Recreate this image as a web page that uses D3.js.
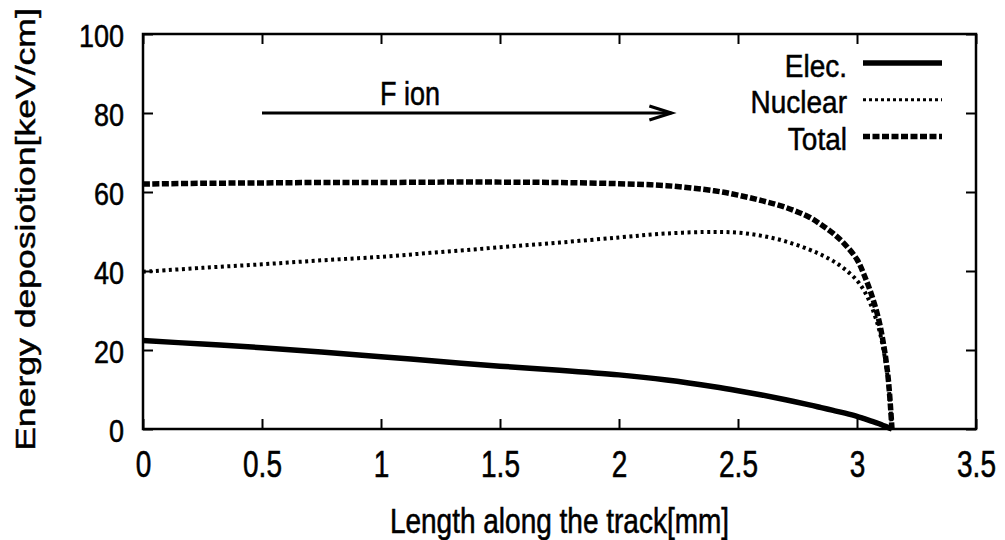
<!DOCTYPE html>
<html>
<head>
<meta charset="utf-8">
<script src="https://cdn.jsdelivr.net/npm/d3@7/dist/d3.min.js"></script>
<style>
  body { margin: 0; background: #fff; }
  svg text { font-family: "Liberation Sans", Arial, Helvetica, sans-serif; fill: #000; stroke: #000; stroke-width: 0.45px; }
</style>
</head>
<body>
<svg id="chart" width="1005" height="540"></svg>
<script>
// track position [mm]
var trackX = [0, 0.25, 0.5, 0.75, 1.0, 1.25, 1.5, 1.75, 2.0, 2.2, 2.4, 2.5, 2.6, 2.7, 2.8, 2.85, 2.9, 2.95, 3.0, 3.03, 3.06, 3.09, 3.11, 3.13, 3.147];
// energy deposition [keV/cm]
var elecValues    = [22.4, 21.5, 20.6, 19.5, 18.3, 17.1, 15.9, 14.9, 13.7, 12.4, 10.7, 9.7, 8.6, 7.4, 6.1, 5.4, 4.7, 4.0, 3.2, 2.6, 2.0, 1.4, 0.9, 0.4, 0];
var nuclearValues = [39.8, 40.8, 41.7, 42.7, 43.6, 44.8, 46.0, 47.2, 48.5, 49.5, 49.9, 49.7, 48.9, 47.5, 45.4, 44.1, 42.5, 40.4, 37.6, 35.0, 31.2, 25.8, 20.5, 12.5, 0];
var totalValues   = [62.0, 62.2, 62.3, 62.4, 62.4, 62.5, 62.5, 62.4, 62.1, 61.6, 60.3, 59.2, 57.8, 56.1, 53.6, 51.7, 49.5, 46.7, 42.9, 39.0, 34.2, 28.0, 22.0, 13.5, 0];

var seriesNames = ["Elec.", "Nuclear", "Total"];
var xTicks = [0, 0.5, 1, 1.5, 2, 2.5, 3, 3.5];
var xTickLabels = ["0", "0.5", "1", "1.5", "2", "2.5", "3", "3.5"];
var yTicks = [0, 20, 40, 60, 80, 100];
var yTickLabels = ["0", "20", "40", "60", "80", "100"];

var xTitle = "Length along the track[mm]";
var yTitle = "Energy deposiotion[keV/cm]";
var ionLabel = "F ion";

const svg = d3.select("#chart");
const margin = { top: 34, right: 29, bottom: 111, left: 143 };
const width = 1005 - margin.left - margin.right,
    height = 540 - margin.top - margin.bottom;

const x = d3.scaleLinear().domain([0, 3.5]).range([0, width]);
const y = d3.scaleLinear().domain([0, 100]).range([height, 0]);

const g = svg.append("g").attr("transform", `translate(${margin.left},${margin.top})`);

// axes, ticks inward on all four sides
const xAxis = g.append("g")
    .attr("transform", `translate(0,${height})`)
    .call(d3.axisBottom(x).tickValues(xTicks).tickSize(-10).tickSizeOuter(0)
        .tickFormat((d, i) => xTickLabels[i]));
g.append("g")
    .call(d3.axisTop(x).tickValues(xTicks).tickSize(-10).tickSizeOuter(0).tickFormat(""));
const yAxis = g.append("g")
    .call(d3.axisLeft(y).tickValues(yTicks).tickSize(-10).tickSizeOuter(0)
        .tickFormat((d, i) => yTickLabels[i]));
g.append("g")
    .attr("transform", `translate(${width},0)`)
    .call(d3.axisRight(y).tickValues(yTicks).tickSize(-10).tickSizeOuter(0).tickFormat(""));

g.selectAll(".tick line").attr("stroke", "#000").attr("stroke-width", 2);
g.selectAll(".domain").remove();

xAxis.selectAll("text")
    .attr("y", 0).attr("dy", null)
    .attr("font-size", 28)
    .attr("transform", "translate(0,48) scale(1,1.3)");
yAxis.selectAll("text")
    .attr("x", 0).attr("dy", null)
    .attr("font-size", 27)
    .attr("text-anchor", "end")
    .attr("transform", "translate(-19,12) scale(1,1.17)");

g.append("rect")
    .attr("width", width)
    .attr("height", height)
    .attr("fill", "none")
    .attr("stroke", "#000")
    .attr("stroke-width", 2.5);

// curves
const styles = [
    { width: 5.5, dash: null },
    { width: 4, dash: "3,3.5" },
    { width: 5.5, dash: "7,2.5" }
];
const allValues = [elecValues, nuclearValues, totalValues];

const line = d3.line()
    .x(d => x(d[0]))
    .y(d => y(d[1]))
    .curve(d3.curveCatmullRom.alpha(0.5));

allValues.forEach((vals, i) => {
    g.append("path")
        .datum(trackX.map((t, j) => [t, vals[j]]))
        .attr("fill", "none")
        .attr("stroke", "#000")
        .attr("stroke-width", styles[i].width)
        .attr("stroke-dasharray", styles[i].dash)
        .attr("d", line);
});

// arrow + label
const arrowY = y(80), arrowX0 = x(0.5), arrowX1 = x(2.22);
g.append("line")
    .attr("x1", arrowX0).attr("x2", arrowX1)
    .attr("y1", arrowY).attr("y2", arrowY)
    .attr("stroke", "#000").attr("stroke-width", 3);
g.append("path")
    .attr("d", `M${arrowX1 - 22},${arrowY - 7}L${arrowX1},${arrowY}L${arrowX1 - 22},${arrowY + 7}`)
    .attr("fill", "none").attr("stroke", "#000").attr("stroke-width", 3.2);
g.append("text")
    .attr("font-size", 27)
    .attr("transform", `translate(${x(1.0) - 1},${y(82) - 0.5}) scale(1,1.2)`)
    .text(ionLabel);

// legend
const legend = svg.append("g").attr("transform", "translate(847,63)");
seriesNames.forEach((name, i) => {
    const row = legend.append("g").attr("transform", `translate(0,${i * 36.7})`);
    row.append("text")
        .attr("font-size", 28)
        .attr("text-anchor", "end")
        .attr("transform", "translate(0,13.5) scale(1,1.1)")
        .text(name);
    row.append("line")
        .attr("x1", 16).attr("x2", 95)
        .attr("stroke", "#000")
        .attr("stroke-width", i === 1 ? 3 : styles[i].width)
        .attr("stroke-dasharray", i === 1 ? "3,3" : styles[i].dash);
});

// axis titles
svg.append("text")
    .attr("font-size", 28)
    .attr("text-anchor", "middle")
    .attr("transform", `translate(${margin.left + width / 2},533) scale(1,1.25)`)
    .text(xTitle);
svg.append("text")
    .attr("font-size", 28)
    .attr("text-anchor", "middle")
    .attr("transform", `translate(35,${margin.top + height / 2 - 2}) rotate(-90) scale(1.27,1)`)
    .text(yTitle);
</script>
</body>
</html>
